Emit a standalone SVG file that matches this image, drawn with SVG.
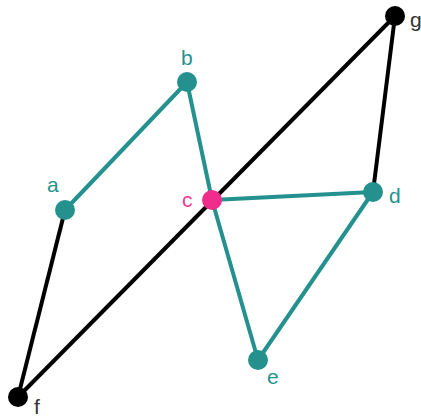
<svg xmlns="http://www.w3.org/2000/svg" width="421" height="418" viewBox="0 0 421 418">
<style>
.t{stroke:#24918f;stroke-width:4;fill:none}
.k{stroke:#000;stroke-width:4;fill:none}
.n{fill:#24918f}
.nk{fill:#000}
.np{fill:#f02d8c}
text{font-family:"Liberation Sans",Arial,sans-serif;font-size:21px}
.lt{fill:#24918f}
.lk{fill:#333}
.lp{fill:#f03c96}
</style>
<rect width="421" height="418" fill="#fff"/>
<g id="connectors">
<line class="k" x1="65" y1="210" x2="18" y2="397"/>
<line class="k" x1="18" y1="397" x2="395" y2="16"/>
<line class="k" x1="395" y1="16" x2="373" y2="192"/>
<line class="t" x1="65" y1="210" x2="187" y2="82"/>
<line class="t" x1="187" y1="82" x2="212" y2="200"/>
<line class="t" x1="212" y1="200" x2="373" y2="192"/>
<line class="t" x1="212" y1="200" x2="258" y2="360"/>
<line class="t" x1="373" y1="192" x2="258" y2="360"/>
</g>
<g id="a"><circle class="n" cx="65" cy="210" r="10"/><text class="lt" x="47" y="192">a</text></g>
<g id="b"><circle class="n" cx="187" cy="82" r="10"/><text class="lt" x="181" y="65">b</text></g>
<g id="c"><circle class="np" cx="212" cy="200" r="10"/><text class="lp" x="182" y="207">c</text></g>
<g id="d"><circle class="n" cx="373" cy="192" r="10"/><text class="lt" x="389" y="203">d</text></g>
<g id="e"><circle class="n" cx="258" cy="360" r="10"/><text class="lt" x="267" y="384">e</text></g>
<g id="f"><circle class="nk" cx="18" cy="397" r="10"/><text class="lk" x="34" y="414">f</text></g>
<g id="g"><circle class="nk" cx="395" cy="16" r="10"/><text class="lk" x="410" y="27">g</text></g>
</svg>
